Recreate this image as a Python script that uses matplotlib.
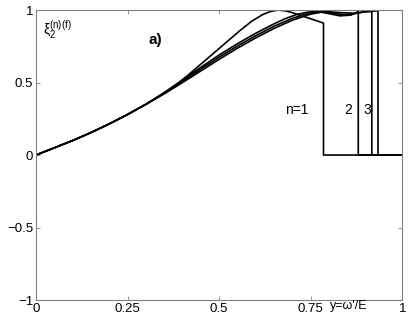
import matplotlib
matplotlib.use('Agg')
import matplotlib.pyplot as plt

plt.rcParams['font.family'] = ['Liberation Sans', 'DejaVu Sans']
plt.rcParams['mathtext.fontset'] = 'custom'
plt.rcParams['mathtext.rm'] = 'Liberation Sans'
plt.rcParams['mathtext.it'] = 'Liberation Sans'

# curve n=1
x_n1 = [0, 0.05, 0.1, 0.15, 0.2, 0.25, 0.3, 0.35, 0.38, 0.41, 0.44, 0.47, 0.5, 0.53, 0.56,
        0.59, 0.62, 0.64, 0.66, 0.68, 0.70, 0.72, 0.75, 0.785, 0.785, 1.0]
y_n1 = [0, 0.05, 0.10, 0.155, 0.215, 0.28, 0.35, 0.43, 0.48, 0.54, 0.605, 0.67, 0.735, 0.80, 0.865,
        0.925, 0.97, 0.99, 1.0, 0.995, 0.982, 0.965, 0.94, 0.91, 0.0, 0.0]

# curve n=2
x_n2 = [0, 0.05, 0.1, 0.15, 0.2, 0.25, 0.3, 0.35, 0.4, 0.45, 0.5, 0.55, 0.6, 0.65, 0.68, 0.71,
        0.74, 0.77, 0.8, 0.83, 0.86, 0.88, 0.88, 1.0]
y_n2 = [0, 0.05, 0.10, 0.155, 0.215, 0.28, 0.35, 0.43, 0.518, 0.605, 0.69, 0.768, 0.84, 0.905, 0.94, 0.968,
        0.985, 0.99, 0.975, 0.96, 0.965, 0.99, 0.0, 0.0]

# curve n=3
x_n3 = [0, 0.05, 0.1, 0.15, 0.2, 0.25, 0.3, 0.35, 0.4, 0.45, 0.5, 0.55, 0.6, 0.65, 0.7, 0.75,
        0.78, 0.81, 0.84, 0.87, 0.9, 0.917, 0.917, 1.0]
y_n3 = [0, 0.05, 0.10, 0.155, 0.215, 0.28, 0.35, 0.426, 0.51, 0.593, 0.675, 0.752, 0.823, 0.888, 0.943, 0.983,
        0.99, 0.978, 0.968, 0.975, 0.99, 0.99, 0.0, 0.0]

# curve n=4
x_n4 = [0, 0.05, 0.1, 0.15, 0.2, 0.25, 0.3, 0.35, 0.4, 0.45, 0.5, 0.55, 0.6, 0.65, 0.7, 0.75,
        0.79, 0.83, 0.87, 0.9, 0.934, 0.934, 1.0]
y_n4 = [0, 0.05, 0.10, 0.155, 0.215, 0.28, 0.35, 0.422, 0.5, 0.58, 0.66, 0.737, 0.808, 0.873, 0.93, 0.972,
        0.99, 0.982, 0.978, 0.988, 0.995, 0.0, 0.0]

curves = [(x_n1, y_n1), (x_n2, y_n2), (x_n3, y_n3), (x_n4, y_n4)]

xticks = [0, 0.25, 0.5, 0.75, 1]
xtick_labels = ['0', '0.25', '0.5', '0.75', '1']
yticks = [-1, -0.5, 0, 0.5, 1]
ytick_labels = ['\u22121', '\u22120.5', '0', '0.5', '1']

fig = plt.figure(figsize=(4.1, 3.24), dpi=100)
ax = fig.add_axes([0.088, 0.074, 0.893, 0.895])

for xs, ys in curves:
    ax.plot(xs, ys, color='black', lw=1.2, solid_joinstyle='round')

ax.set_xlim(0, 1)
ax.set_ylim(-1, 1)
ax.set_xticks(xticks)
ax.set_xticklabels(xtick_labels)
ax.set_yticks(yticks)
ax.set_yticklabels(ytick_labels)
ax.tick_params(direction='in', length=3, width=0.6, color='#808080', labelsize=9.5,
               top=True, right=True, pad=2)
for s in ax.spines.values():
    s.set_color('#808080')
    s.set_linewidth(0.8)

# labels and annotations
ax.text(0.02, 0.82, r'$\mathrm{\xi_2^{(n)(f)}}$', fontsize=10)
ax.text(0.325, 0.79, 'a)', fontsize=11, fontweight='bold', ha='center', va='center')
ax.text(0.713, 0.31, 'n=1', fontsize=10, ha='center', va='center')
ax.text(0.852, 0.31, '2', fontsize=10, ha='center', va='center')
ax.text(0.905, 0.31, '3', fontsize=10, ha='center', va='center')
ax.text(0.855, -1.0, "y=\u03c9'/E", fontsize=9, ha='center', va='top')

fig.savefig('out.png', dpi=100)
